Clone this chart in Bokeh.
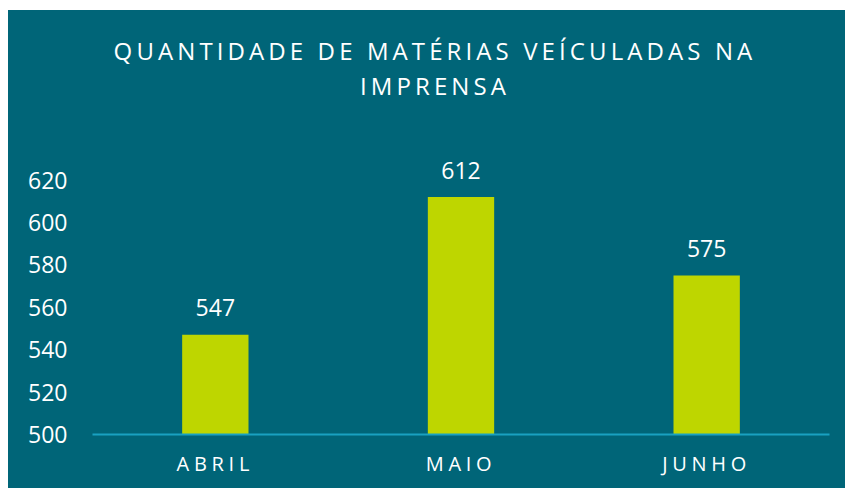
from bokeh.plotting import figure
from bokeh.models import ColumnDataSource, FactorRange, Range1d, FixedTicker, Label, CustomJS
from bokeh.core.properties import value
from bokeh.document import Document
from bokeh.embed import file_html
from bokeh.resources import INLINE

# ---- data ----
title_line1 = "QUANTIDADE DE MATÉRIAS VEÍCULADAS NA"
title_line2 = "IMPRENSA"
months = ["ABRIL", "MAIO", "JUNHO"]
counts = [547, 612, 575]
y_ticks = [500, 520, 540, 560, 580, 600, 620]

BG = "#006578"
LIME = "#BED600"
AXIS = "#19A1C1"
FONT = "Open Sans"

src = ColumnDataSource(dict(month=months, count=counts,
                            label=[str(v) for v in counts]))

# the y range reaches up into the title area (ticks stop at 620)
p = figure(x_range=FactorRange(factors=months), y_range=Range1d(500, 700),
           width=845, height=488, output_backend="svg", toolbar_location=None,
           min_border_left=92, min_border_right=16, min_border_top=10,
           min_border_bottom=54,
           styles={"background": ("linear-gradient(to right, #ffffff 8px, transparent 8px), "
                                  f"linear-gradient(to bottom, #ffffff 10px, {BG} 10px)")})
p.background_fill_color = None
p.border_fill_color = None
p.outline_line_color = None

p.vbar(x="month", top="count", bottom=500, width=0.27, source=src,
       fill_color=LIME, line_color=None)
p.text(x="month", y="count", text="label", source=src, text_color="white",
       text_font=value(FONT), text_font_size="23px", text_align="center",
       text_baseline="middle", y_offset=-27)

# two-line title, centred over the chart
for txt, yy in [(title_line1, 681.2), (title_line2, 664.7)]:
    p.add_layout(Label(x=1.5, y=yy, x_offset=-26, text=txt,
                       text_color="white", text_font=FONT, text_font_size="24px",
                       text_align="center", text_baseline="middle"))

p.xgrid.visible = False
p.ygrid.visible = False

p.xaxis.axis_line_color = AXIS
p.xaxis.axis_line_width = 2
p.xaxis.major_tick_line_color = None
p.xaxis.major_tick_in = 0
p.xaxis.major_tick_out = 0
p.xaxis.major_label_standoff = 15
p.xaxis.major_label_text_color = "white"
p.xaxis.major_label_text_font = FONT
p.xaxis.major_label_text_font_size = "20px"

p.yaxis.ticker = FixedTicker(ticks=y_ticks)
p.yaxis.axis_line_color = None
p.yaxis.major_tick_line_color = None
p.yaxis.minor_tick_line_color = None
p.yaxis.major_tick_out = 0
p.yaxis.major_tick_in = 0
p.yaxis.major_label_standoff = 25
p.yaxis.major_label_text_color = "white"
p.yaxis.major_label_text_font = FONT
p.yaxis.major_label_text_font_size = "23px"

# wide letter spacing for the title and the month names (as in the original);
# the text is re-centred with dx because the spacing widens it to the right
spacing_js = CustomJS(code="""
const specs = [["24px", 4.1], ["20px", 4.7]];
const css = specs.map(([f, l]) => `text[font-size="${f}"]{letter-spacing:${l}px;}`).join("\\n");
const watched = new WeakSet();
function fixText(t) {
  const info = (t.getAttribute("font-size") || "") + " " + (t.getAttribute("style") || "");
  for (const [f, l] of specs) {
    if (info.indexOf(f) >= 0) {
      t.style.letterSpacing = l + "px";
      const anchor = t.getAttribute("text-anchor") || "start";
      const n = (t.textContent || "").length;
      const shift = anchor === "start" ? -n * l / 2 : 0;
      t.setAttribute("dx", String(shift));
      break;
    }
  }
}
function fix(root) {
  try {
    if (root !== document && !root.querySelector('style[data-ls="1"]')) {
      const s = document.createElement("style");
      s.setAttribute("data-ls", "1");
      s.textContent = css;
      root.appendChild(s);
    }
    if (root !== document && !watched.has(root)) {
      watched.add(root);
      new MutationObserver(() => setTimeout(() => fix(document), 0))
        .observe(root, {childList: true, subtree: true});
    }
    root.querySelectorAll("text").forEach(fixText);
    root.querySelectorAll("*").forEach((el) => { if (el.shadowRoot) fix(el.shadowRoot); });
  } catch (e) {}
}
fix(document);
[20, 80, 200, 400, 700, 1000, 1500, 2000, 3000, 5000].forEach((t) => setTimeout(() => fix(document), t));
""")

doc = Document()
doc.add_root(p)
try:
    doc.js_on_event("document_ready", spacing_js)
except Exception:
    pass
try:
    p.js_on_change("inner_width", spacing_js)
except Exception:
    pass

open("out.html", "w").write(file_html(p, INLINE))
